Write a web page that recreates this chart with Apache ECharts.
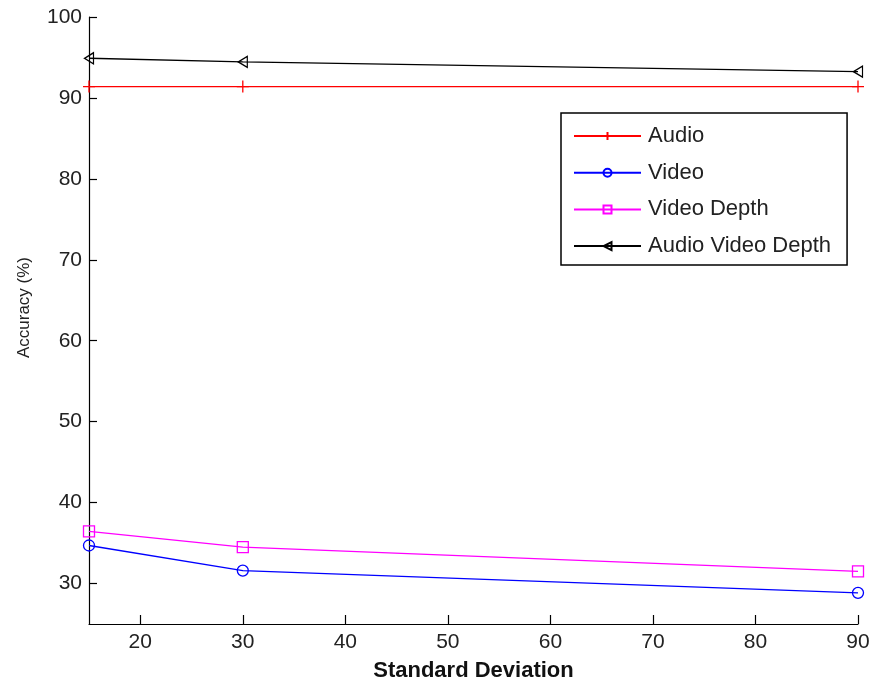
<!DOCTYPE html>
<html>
<head>
<meta charset="utf-8">
<script src="https://cdn.jsdelivr.net/npm/echarts@6/dist/echarts.min.js"></script>
<style>
  html, body { margin: 0; padding: 0; background: #ffffff; }
  #chart { width: 877px; height: 687px; }
</style>
</head>
<body>
<div id="chart"></div>
<script>
// Standard deviation values on the x axis
var stdDev = [15, 30, 90];

// Accuracy (%) of each modality
var audio = [91.4, 91.4, 91.4];
var video = [34.7, 31.6, 28.85];
var videoDepth = [36.45, 34.5, 31.5];
var audioVideoDepth = [94.9, 94.45, 93.25];

// Tick values
var xTicks = [20, 30, 40, 50, 60, 70, 80, 90];
var yTicks = [30, 40, 50, 60, 70, 80, 90, 100];

var FONT = '"Liberation Sans", Arial, Helvetica, sans-serif';

function pairs(xs, ys) {
  return xs.map(function (x, i) { return [x, ys[i]]; });
}

function series(name, values, color, symbol, size) {
  return {
    name: name,
    type: 'line',
    data: pairs(stdDev, values),
    symbol: symbol,
    symbolSize: size,
    showAllSymbol: true,
    clip: false,
    color: color,
    lineStyle: { color: color, width: 1.4 },
    itemStyle: { color: 'rgba(0,0,0,0)', borderColor: color, borderWidth: 1.3 },
    emphasis: { disabled: true },
    animation: false
  };
}

var chart = echarts.init(document.getElementById('chart'), null, { renderer: 'canvas' });

chart.setOption({
  backgroundColor: '#ffffff',
  animation: false,
  grid: { left: 89, right: 19, top: 17, bottom: 62, containLabel: false },
  legend: {
    orient: 'vertical',
    left: 561,
    top: 113,
    padding: [12, 16, 8, 12],
    itemWidth: 67,
    itemHeight: 10,
    itemGap: 14.7,
    backgroundColor: '#ffffff',
    borderColor: '#000000',
    borderWidth: 1.5,
    borderRadius: 0,
    textStyle: { fontFamily: FONT, fontSize: 22, lineHeight: 22, color: '#222222', padding: [0, 0, 0, 2] },
    data: ['Audio', 'Video', 'Video Depth', 'Audio Video Depth']
  },
  xAxis: {
    type: 'value',
    min: 15,
    max: 90,
    name: 'Standard Deviation',
    nameLocation: 'middle',
    nameGap: 36,
    nameTextStyle: { fontFamily: FONT, fontSize: 22, fontWeight: 'bold', color: '#111111' },
    axisLine: { show: true, lineStyle: { color: '#000000', width: 1.2 } },
    axisTick: { show: true, inside: true, length: 9, customValues: xTicks, lineStyle: { color: '#000000', width: 1.2 } },
    axisLabel: { customValues: xTicks, margin: 8, fontFamily: FONT, fontSize: 21, color: '#222222' },
    splitLine: { show: false }
  },
  yAxis: {
    type: 'value',
    min: 25,
    max: 100,
    name: 'Accuracy (%)',
    nameLocation: 'middle',
    nameGap: 56,
    nameTextStyle: { fontFamily: FONT, fontSize: 17, color: '#222222', padding: [0, 0, 0, 26] },
    axisLine: { show: true, lineStyle: { color: '#000000', width: 1.2 } },
    axisTick: { show: true, inside: true, length: 8, customValues: yTicks, lineStyle: { color: '#000000', width: 1.2 } },
    axisLabel: { customValues: yTicks, margin: 7, fontFamily: FONT, fontSize: 21, color: '#222222' },
    splitLine: { show: false }
  },
  series: [
    series('Audio', audio, '#ff0000', 'path://M5,0 L5,10 M0,5 L10,5', 12),
    series('Video', video, '#0000ff', 'circle', 11),
    series('Video Depth', videoDepth, '#ff00ff', 'rect', 11),
    series('Audio Video Depth', audioVideoDepth, '#000000', 'path://M0,5 L9,0 L9,10 Z', [9, 11])
  ]
});
</script>
</body>
</html>
